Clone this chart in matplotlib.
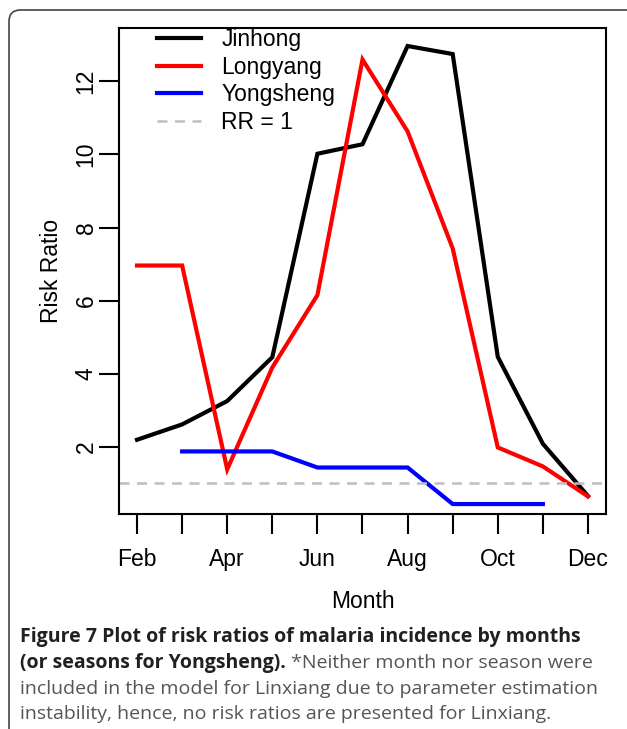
import matplotlib
matplotlib.use("Agg")
import matplotlib.pyplot as plt
from matplotlib.patches import FancyBboxPatch
import numpy as np

# ---- data ----
month_num = [2, 3, 4, 5, 6, 7, 8, 9, 10, 11, 12]
month_labels = ["Feb", "", "Apr", "", "Jun", "", "Aug", "", "Oct", "", "Dec"]
jinhong = [2.19, 2.61, 3.25, 4.45, 10.02, 10.28, 12.97, 12.75, 4.46, 2.08, 0.65]
longyang = [6.96, 6.96, 1.38, 4.17, 6.15, 12.60, 10.63, 7.43, 1.98, 1.46, 0.64]
yong_months = [3, 4, 5, 6, 7, 8, 9, 10, 11]
yongsheng = [1.87, 1.87, 1.87, 1.43, 1.43, 1.43, 0.43, 0.43, 0.43]
y_ticks = [2, 4, 6, 8, 10, 12]
rr_ref = 1.0

W, H = 627, 729
fig = plt.figure(figsize=(W / 100, H / 100), dpi=100)
plt.rcParams['font.family'] = ['Liberation Sans', 'DejaVu Sans']

# outer rounded frame (cropped at right/bottom)
frame = FancyBboxPatch((9 / W, -0.05), 1.2, 1.05 - 10 / H,
                       boxstyle="round,pad=0,rounding_size=0.018",
                       transform=fig.transFigure, fill=False,
                       edgecolor="#444444", linewidth=1.2, mutation_aspect=W / H)
fig.patches.append(frame)

ax = fig.add_axes([119 / W, 1 - 514 / H, (606 - 119) / W, (514 - 28) / H])

ax.plot(month_num, jinhong, color="black", lw=3, label="Jinhong", solid_joinstyle="miter")
ax.plot(month_num, longyang, color="#FF0000", lw=3, label="Longyang", solid_joinstyle="miter")
ax.plot(yong_months, yongsheng, color="#0000FF", lw=3, label="Yongsheng", solid_joinstyle="miter")
ax.axhline(rr_ref, color="#BEBEBE", lw=1.8, ls=(0, (4, 3)), label="RR = 1")

# R-style 4% padding
xr = max(month_num) - min(month_num)
ax.set_xlim(min(month_num) - 0.04 * xr, max(month_num) + 0.04 * xr)
yr = max(jinhong) - min(jinhong)
ax.set_ylim(min(jinhong) - 0.04 * yr, max(jinhong) + 0.04 * yr)

ax.set_xticks(month_num)
ax.set_xticklabels(month_labels, va="baseline")
ax.set_yticks(y_ticks)
ax.set_yticklabels([str(v) for v in y_ticks], rotation=90, va="center")

for s in ax.spines.values():
    s.set_linewidth(1.5)
ax.tick_params(axis="both", direction="out", length=14.4, width=1.5,
               labelsize=16.5, colors="black")
ax.tick_params(axis="x", pad=23)
ax.tick_params(axis="y", pad=1)

ax.set_xlabel("Month", fontsize=16.5, labelpad=14)
ax.set_ylabel("Risk Ratio", fontsize=16.5, labelpad=8)

leg = ax.legend(loc="upper left", bbox_to_anchor=(38 / 487, 1.0), frameon=False,
                fontsize=16.5, handlelength=1.9, handletextpad=0.9,
                labelspacing=0.2, borderaxespad=0, borderpad=0)

# caption
cap_font = ['Open Sans', 'DejaVu Sans']
fs = 14.0
bold_col = "#231F20"
gray_col = "#555555"
x0 = 20 / W
fig.text(x0, 1 - 642 / H, "Figure 7 Plot of risk ratios of malaria incidence by months",
         fontsize=fs, fontweight="bold", family=cap_font, color=bold_col, va="baseline")
t2 = fig.text(x0, 1 - 668 / H, "(or seasons for Yongsheng).",
              fontsize=fs, fontweight="bold", family=cap_font, color=bold_col, va="baseline")
fig.canvas.draw()
bb = t2.get_window_extent()
fig.text(bb.x1 / W, 1 - 668 / H, " *Neither month nor season were",
         fontsize=fs, family=cap_font, color=gray_col, va="baseline")
fig.text(x0, 1 - 694 / H, "included in the model for Linxiang due to parameter estimation",
         fontsize=fs, family=cap_font, color=gray_col, va="baseline")
fig.text(x0, 1 - 719 / H, "instability, hence, no risk ratios are presented for Linxiang.",
         fontsize=fs, family=cap_font, color=gray_col, va="baseline")

fig.savefig("out.png", dpi=100)
